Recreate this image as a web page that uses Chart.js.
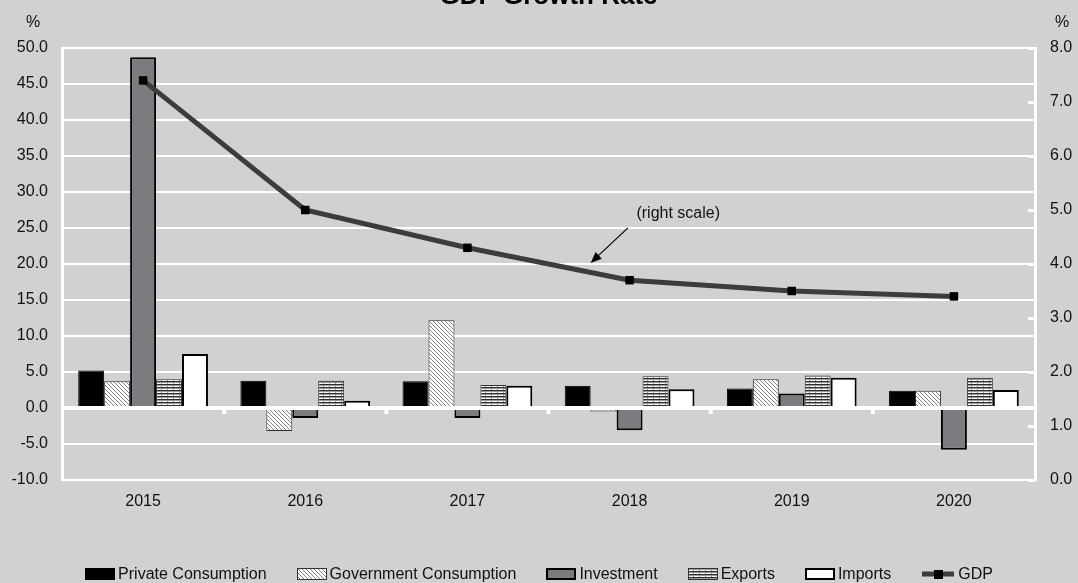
<!DOCTYPE html>
<html>
<head>
<meta charset="utf-8">
<title>GDP Growth Rate</title>
<script src="https://cdn.jsdelivr.net/npm/chart.js@4.4.1/dist/chart.umd.min.js"></script>
<style>
    html, body { margin: 0; padding: 0; background: #d0d1d3; }
    #wrap { position: relative; width: 1078px; height: 583px; overflow: hidden; }
    #chart { position: absolute; left: 0; top: 0; }
    #legend {
        position: absolute; left: 0; top: 565px; width: 1078px;
        display: flex; justify-content: center; align-items: center;
        font: 16px 'Liberation Sans', Arial, sans-serif; color: #111; line-height: 18px;
    }
    .lg-item { display: flex; align-items: center; margin: 0 15px; white-space: nowrap; }
    .lg-item canvas { margin-right: 3px; display: block; }
</style>
</head>
<body>
<div id="wrap">
    <canvas id="chart" width="1078" height="583"></canvas>
    <div id="legend"></div>
</div>
<script>
'use strict';

// ── Data (annual growth, %) ──────────────────────────────────────────────────
var YEARS        = ['2015', '2016', '2017', '2018', '2019', '2020'];
var PRIVATE_CONS = [5.2, 3.8, 3.7, 3.1, 2.7, 2.4];
var GOV_CONS     = [3.7, -3.2, 12.2, -0.5, 4.0, 2.4];
var INVESTMENT   = [48.7, -1.4, -1.4, -3.1, 2.0, -5.8];
var EXPORTS      = [4.0, 3.8, 3.2, 4.4, 4.5, 4.2];
var IMPORTS      = [7.5, 1.0, 3.1, 2.6, 4.2, 2.5];
var GDP          = [7.4, 5.0, 4.3, 3.7, 3.5, 3.4];

// tick values, left (components) and right (GDP) scale
var LEFT_TICKS  = [-10, -5, 0, 5, 10, 15, 20, 25, 30, 35, 40, 45, 50];
var RIGHT_TICKS = [0, 1, 2, 3, 4, 5, 6, 7, 8];

// ── Style ────────────────────────────────────────────────────────────────────
var FONT      = "'Liberation Sans', Arial, sans-serif";
var TEXT      = '#111111';
var GRID      = '#ffffff';
var GDP_LINE  = '#3c3c3c';

// "(right scale)" note, placed in scale units (x = category index, y = right scale)
var NOTE = { text: '(right scale)', tip: [2.76, 4.02], tail: [2.99, 4.67], label: [3.30, 4.93] };

// ── Fill patterns ────────────────────────────────────────────────────────────
function makeHatch(ctx) {
    var c = document.createElement('canvas');
    c.width = 4; c.height = 4;
    var p = c.getContext('2d');
    p.fillStyle = '#ffffff';
    p.fillRect(0, 0, 4, 4);
    p.fillStyle = '#858585';
    for (var i = 0; i < 4; i++) { p.fillRect(i, i, 1, 1); }
    return ctx.createPattern(c, 'repeat');
}

function makeStripes(ctx) {
    var c = document.createElement('canvas');
    c.width = 6; c.height = 3;
    var p = c.getContext('2d');
    p.fillStyle = '#ffffff';
    p.fillRect(0, 0, 6, 3);
    p.fillStyle = '#2e2e2e';
    p.fillRect(0, 0, 6, 1);
    p.fillStyle = '#9a9a9a';
    p.fillRect(0, 1, 6, 1);
    p.fillRect(5, 2, 1, 1);
    return ctx.createPattern(c, 'repeat');
}

// one entry per bar series: fill can be a colour or a pattern factory
var BAR_SERIES = [
    { label: 'Private Consumption',    data: PRIVATE_CONS, fill: '#000000',   border: '#000000', width: 1 },
    { label: 'Government Consumption', data: GOV_CONS,     fill: makeHatch,   border: '#333333', width: 1 },
    { label: 'Investment',             data: INVESTMENT,   fill: '#7c7c80',   border: '#000000', width: 2 },
    { label: 'Exports',                data: EXPORTS,      fill: makeStripes, border: '#333333', width: 1 },
    { label: 'Imports',                data: IMPORTS,      fill: '#ffffff',   border: '#000000', width: 2 }
];

function resolveFill(fill, ctx) {
    return typeof fill === 'function' ? fill(ctx) : fill;
}

// ── Extra drawing: zero line, inner ticks, title, units, note ────────────────
var decorPlugin = {
    id: 'decor',
    beforeDatasetsDraw: function (chart) {
        var ctx = chart.ctx, a = chart.chartArea, y1 = chart.scales.y1;
        ctx.save();
        ctx.strokeStyle = GRID;
        ctx.lineWidth = 3;
        RIGHT_TICKS.forEach(function (v) {
            var py = Math.round(y1.getPixelForValue(v)) + 0.5;
            ctx.beginPath();
            ctx.moveTo(a.right - 7, py);
            ctx.lineTo(a.right, py);
            ctx.stroke();
        });
        ctx.restore();
    },
    afterDatasetsDraw: function (chart) {
        var ctx = chart.ctx, a = chart.chartArea;
        var x = chart.scales.x, y = chart.scales.y, y1 = chart.scales.y1;
        var y0 = y.getPixelForValue(0);

        ctx.save();
        // category axis sits on the zero line
        ctx.fillStyle = GRID;
        ctx.fillRect(a.left, y0 - 2, a.right - a.left, 4);
        for (var i = 1; i < YEARS.length; i++) {
            var bx = x.getPixelForValue(i - 0.5);
            ctx.fillRect(bx - 2, y0 + 2, 4, 4);
        }

        // note with arrow pointing at the GDP line
        var tipX  = x.getPixelForValue(NOTE.tip[0]),  tipY  = y1.getPixelForValue(NOTE.tip[1]);
        var tailX = x.getPixelForValue(NOTE.tail[0]), tailY = y1.getPixelForValue(NOTE.tail[1]);
        var ang = Math.atan2(tipY - tailY, tipX - tailX);
        ctx.strokeStyle = '#000000';
        ctx.fillStyle = '#000000';
        ctx.lineWidth = 1.2;
        ctx.beginPath();
        ctx.moveTo(tailX, tailY);
        ctx.lineTo(tipX - 8 * Math.cos(ang), tipY - 8 * Math.sin(ang));
        ctx.stroke();
        ctx.beginPath();
        ctx.moveTo(tipX, tipY);
        ctx.lineTo(tipX - 11 * Math.cos(ang) + 4.5 * Math.sin(ang), tipY - 11 * Math.sin(ang) - 4.5 * Math.cos(ang));
        ctx.lineTo(tipX - 11 * Math.cos(ang) - 4.5 * Math.sin(ang), tipY - 11 * Math.sin(ang) + 4.5 * Math.cos(ang));
        ctx.closePath();
        ctx.fill();

        ctx.fillStyle = TEXT;
        ctx.font = '16px ' + FONT;
        ctx.textAlign = 'center';
        ctx.textBaseline = 'middle';
        ctx.fillText(NOTE.text, x.getPixelForValue(NOTE.label[0]), y1.getPixelForValue(NOTE.label[1]));
        ctx.restore();
    },
    afterDraw: function (chart) {
        var ctx = chart.ctx, a = chart.chartArea;
        ctx.save();
        ctx.fillStyle = '#000000';
        ctx.textAlign = 'center';
        ctx.textBaseline = 'alphabetic';
        ctx.font = 'bold 26px ' + FONT;
        ctx.fillText('GDP Growth Rate', (a.left + a.right) / 2, 4);

        ctx.fillStyle = TEXT;
        ctx.font = '16px ' + FONT;
        ctx.textBaseline = 'middle';
        ctx.fillText('%', 33, 23);
        ctx.fillText('%', 1062, 23);
        ctx.restore();
    }
};

// ── Chart ────────────────────────────────────────────────────────────────────
var canvas = document.getElementById('chart');
var ctx = canvas.getContext('2d');

var datasets = BAR_SERIES.map(function (s) {
    return {
        type: 'bar',
        label: s.label,
        data: s.data,
        yAxisID: 'y',
        backgroundColor: resolveFill(s.fill, ctx),
        borderColor: s.border,
        borderWidth: s.width,
        categoryPercentage: 0.8,
        barPercentage: 1.0,
        order: 1
    };
});

datasets.push({
    type: 'line',
    label: 'GDP',
    data: GDP,
    yAxisID: 'y1',
    borderColor: GDP_LINE,
    borderWidth: 5,
    tension: 0,
    pointStyle: 'rect',
    pointRadius: 6,
    pointBackgroundColor: '#000000',
    pointBorderColor: '#000000',
    pointBorderWidth: 0,
    order: 0
});

Chart.defaults.font.family = FONT;
Chart.defaults.font.size = 16;
Chart.defaults.color = TEXT;

new Chart(ctx, {
    type: 'bar',
    data: { labels: YEARS, datasets: datasets },
    options: {
        responsive: false,
        animation: false,
        events: [],
        layout: { padding: { top: 48, bottom: 73, left: 0, right: 0 } },
        plugins: {
            legend: { display: false },
            tooltip: { enabled: false },
            title: { display: false }
        },
        scales: {
            x: {
                grid: { display: false, drawTicks: false },
                border: { display: false },
                ticks: { padding: 12 },
                afterFit: function (s) { s.height = 30; }
            },
            y: {
                position: 'left',
                min: LEFT_TICKS[0],
                max: LEFT_TICKS[LEFT_TICKS.length - 1],
                afterBuildTicks: function (s) {
                    s.ticks = LEFT_TICKS.map(function (v) { return { value: v }; });
                },
                grid: { color: GRID, lineWidth: 2, drawTicks: false },
                border: { display: true, color: GRID, width: 3 },
                ticks: {
                    padding: 14,
                    callback: function (v) { return Number(v).toFixed(1); }
                },
                afterFit: function (s) { s.width = 62; }
            },
            y1: {
                position: 'right',
                min: RIGHT_TICKS[0],
                max: RIGHT_TICKS[RIGHT_TICKS.length - 1],
                afterBuildTicks: function (s) {
                    s.ticks = RIGHT_TICKS.map(function (v) { return { value: v }; });
                },
                grid: { display: false, drawTicks: false },
                border: { display: true, color: GRID, width: 3 },
                ticks: {
                    padding: 15,
                    callback: function (v) { return Number(v).toFixed(1); }
                },
                afterFit: function (s) { s.width = 43; }
            }
        }
    },
    plugins: [decorPlugin]
});

// ── Legend ───────────────────────────────────────────────────────────────────
function drawSwatch(label) {
    var c = document.createElement('canvas');
    var sctx = c.getContext('2d');
    if (label === 'GDP') {
        c.width = 34; c.height = 12;
        sctx.strokeStyle = GDP_LINE;
        sctx.lineWidth = 5;
        sctx.beginPath();
        sctx.moveTo(1, 6);
        sctx.lineTo(33, 6);
        sctx.stroke();
        sctx.fillStyle = '#000000';
        sctx.fillRect(13, 2, 9, 9);
        return c;
    }
    var s = BAR_SERIES.filter(function (b) { return b.label === label; })[0];
    c.width = 30; c.height = 12;
    sctx.fillStyle = resolveFill(s.fill, sctx);
    sctx.fillRect(0, 0, 30, 12);
    sctx.strokeStyle = s.border;
    sctx.lineWidth = s.width;
    sctx.strokeRect(s.width / 2, s.width / 2, 30 - s.width, 12 - s.width);
    return c;
}

var legendEl = document.getElementById('legend');
BAR_SERIES.map(function (s) { return s.label; }).concat(['GDP']).forEach(function (label) {
    var item = document.createElement('div');
    item.className = 'lg-item';
    item.appendChild(drawSwatch(label));
    var span = document.createElement('span');
    span.textContent = label;
    item.appendChild(span);
    legendEl.appendChild(item);
});
</script>
</body>
</html>
